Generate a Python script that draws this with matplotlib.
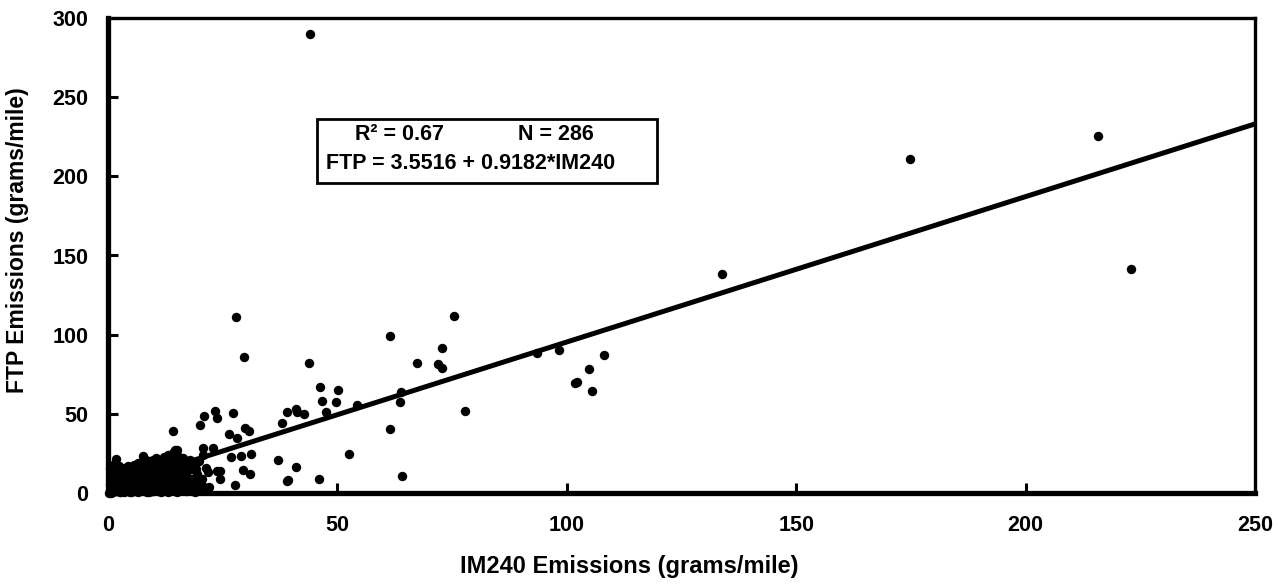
import matplotlib
matplotlib.use("Agg")
import matplotlib.pyplot as plt
from matplotlib.patches import Rectangle
import numpy as np

# ---------------- data (IM240, FTP) ----------------
cluster_points = [
    (0.5, 1.0), (0.8, 3.0), (1.0, 0.5), (1.2, 5.0), (1.5, 2.0), (1.7, 21.5), (1.8, 8.0),
    (2.0, 1.5), (2.2, 4.0), (2.5, 12.0), (2.6, 0.8), (2.8, 6.0), (3.0, 2.5), (3.2, 9.0),
    (3.4, 0.5), (3.5, 4.5), (3.8, 7.0), (4.0, 1.2), (4.2, 3.0), (4.4, 10.0), (4.5, 5.5),
    (4.8, 0.7), (5.0, 2.0), (5.2, 8.0), (5.4, 4.0), (5.6, 11.0), (5.8, 1.0), (6.0, 6.0),
    (6.2, 3.0), (6.4, 13.0), (6.5, 0.5), (6.8, 9.0), (7.0, 2.0), (7.2, 5.0), (7.4, 15.0),
    (7.6, 7.0), (7.6, 23.4), (7.8, 1.0), (8.0, 11.0), (8.2, 3.5), (8.4, 18.0), (8.6, 6.0),
    (8.8, 13.0), (9.0, 0.8), (9.2, 9.0), (9.4, 20.0), (9.5, 4.0), (9.8, 16.0), (10.0, 2.0),
    (10.2, 12.0), (10.4, 22.0), (10.5, 7.0), (10.8, 18.0), (11.0, 1.0), (11.2, 10.0),
    (11.4, 14.0), (11.5, 21.0), (11.8, 5.0), (12.0, 17.0), (12.2, 8.0), (12.4, 2.5),
    (12.6, 20.0), (12.8, 12.0), (13.0, 15.0), (13.2, 6.0), (13.4, 22.0), (13.5, 3.0),
    (13.8, 18.0), (14.0, 10.0), (14.2, 25.0), (14.4, 13.0), (14.6, 1.5), (14.8, 19.0),
    (15.0, 7.0), (15.2, 16.0), (15.4, 23.0), (15.6, 11.0), (15.8, 4.0), (16.0, 19.0),
    (16.2, 14.0), (16.4, 8.0), (16.6, 2.0), (16.8, 17.0), (17.0, 12.0), (17.4, 20.0),
    (17.6, 5.0), (18.0, 15.0), (18.3, 9.0), (18.6, 3.0), (19.0, 18.0), (19.5, 12.0),
    (20.0, 7.0), (0.3, 0.3), (0.9, 6.5), (1.4, 9.5), (2.1, 3.5), (2.9, 10.5), (3.6, 1.8),
    (4.1, 7.5), (4.9, 13.5), (5.5, 1.5), (6.1, 9.5), (6.9, 4.5), (7.3, 11.5), (8.1, 7.5),
    (8.9, 16.5), (9.7, 1.5), (10.3, 14.5), (11.1, 6.5), (11.9, 19.5), (12.7, 4.5),
    (13.3, 9.5), (14.1, 17.5), (14.9, 11.0), (15.7, 2.5), (16.5, 13.5), (17.2, 9.0),
    (1.1, 14.0), (3.3, 11.0), (5.9, 3.5), (7.9, 4.5), (10.9, 15.5), (12.9, 7.0),
    (16.1, 10.5), (2.4, 5.5), (4.6, 13.0), (6.7, 6.0), (9.1, 16.5), (11.6, 1.0),
    (13.9, 4.0), (0.6, 0.2), (2.7, 0.6), (5.1, 0.4),
    (0.4, 6.0), (0.7, 9.0), (1.3, 11.0), (1.6, 14.0), (2.3, 17.0), (1.9, 15.0),
    (2.0, 13.0), (3.1, 14.0), (3.9, 12.0), (4.7, 13.0), (5.3, 15.0), (6.3, 16.0),
    (6.6, 19.0), (7.1, 18.0), (8.3, 21.0), (9.3, 17.0), (9.9, 21.0), (10.6, 20.0),
    (11.3, 19.0), (12.1, 23.0), (13.1, 24.0), (13.7, 21.0), (14.5, 27.0), (15.3, 20.0),
    (16.3, 22.0), (17.1, 18.0), (17.8, 21.0), (18.5, 17.0), (19.2, 15.0), (19.8, 20.0),
    (0.5, 16.0), (1.0, 18.0), (3.7, 16.0), (4.3, 17.0), (5.7, 18.0), (6.9, 14.0),
    (8.7, 15.0), (10.1, 8.0), (11.7, 13.0), (12.3, 5.0), (13.6, 9.0), (14.3, 6.0),
    (15.5, 3.0), (16.7, 6.0), (17.5, 9.0), (18.9, 6.0), (19.7, 3.0), (20.5, 9.0),
    (21.0, 4.0), (2.2, 10.0), (3.0, 11.0), (4.0, 8.0), (6.0, 10.0), (7.0, 12.0),
    (8.5, 0.5), (9.6, 1.0), (11.5, 0.8), (13.0, 0.5), (15.0, 0.6), (17.0, 1.0), (19.0, 0.8),
]
mid_points = [
    (14.2, 39.2), (20.0, 43.0), (20.9, 48.6), (23.3, 51.8), (23.8, 47.4), (27.2, 50.5),
    (26.4, 37.3), (29.9, 41.0), (30.7, 39.2), (28.1, 34.7), (15.0, 27.2), (20.7, 28.4),
    (22.9, 28.4), (20.7, 24.0), (26.8, 22.7), (29.0, 23.4), (31.2, 24.6), (37.0, 20.8),
    (21.4, 15.8), (21.8, 13.3), (23.8, 13.9), (24.4, 13.9), (18.3, 6.3), (29.4, 14.5),
    (31.0, 12.0), (27.7, 5.0), (39.2, 8.2), (19.8, 2.5), (22.0, 4.0), (24.5, 9.0),
    (18.8, 1.0),
]
scatter_points = [
    (75.4, 111.8), (61.5, 99.2), (72.8, 91.6), (43.8, 82.1), (67.3, 82.1), (71.9, 81.5),
    (72.8, 79.0), (93.5, 88.4), (46.2, 67.0), (50.1, 65.0), (46.6, 58.1), (49.7, 57.5),
    (63.9, 63.8), (63.6, 57.5), (54.3, 55.6), (39.0, 51.2), (41.0, 53.0), (41.2, 51.2),
    (42.7, 49.9), (47.5, 51.2), (37.9, 44.2), (77.8, 51.8), (61.5, 40.4), (52.5, 24.6),
    (41.0, 16.4), (39.0, 7.6), (46.0, 8.8), (64.1, 10.7), (27.9, 111.2), (29.6, 85.9),
    (133.8, 138.3), (98.3, 90.3), (108.1, 87.2), (104.8, 78.3), (102.2, 70.1),
    (101.8, 69.5), (105.5, 64.4), (174.8, 211.0), (215.8, 225.5), (223.0, 141.5),
    (44.0, 290.0),
]
fit_intercept = 3.5516
fit_slope = 0.9182
x_ticks = [0, 50, 100, 150, 200, 250]
y_ticks = [0, 50, 100, 150, 200, 250, 300]
x_label = "IM240 Emissions (grams/mile)"
y_label = "FTP Emissions (grams/mile)"
stats_r2 = "R² = 0.67"
stats_n = "N = 286"
stats_eq = "FTP = 3.5516 + 0.9182*IM240"

# ---------------- figure ----------------
plt.rcParams['font.family'] = ['Liberation Sans', 'DejaVu Sans']
fig = plt.figure(figsize=(12.78, 5.84), dpi=100)
ax = fig.add_axes([108/1278, 1 - 493/584, (1255 - 108)/1278, (493 - 18)/584])

pts = np.array(cluster_points + mid_points + scatter_points)
ax.scatter(pts[:, 0], pts[:, 1], s=46, color='black', zorder=3, linewidths=0,
           clip_on=False)

xl = np.array([0, 250])
ax.plot(xl, fit_intercept + fit_slope * xl, color='black', lw=3.6, zorder=2,
        solid_capstyle='butt')

ax.set_xlim(0, 250)
ax.set_ylim(0, 300)
ax.set_xticks(x_ticks)
ax.set_yticks(y_ticks)
ax.tick_params(direction='in', length=7, width=2.2, labelsize=15.5)
ax.tick_params(axis='y', pad=14)
ax.tick_params(axis='x', pad=16)
for lab in ax.get_xticklabels() + ax.get_yticklabels():
    lab.set_fontweight('bold')

for side, w in [('left', 3.8), ('bottom', 3.8), ('top', 2.4), ('right', 2.4)]:
    ax.spines[side].set_linewidth(w)
    ax.spines[side].set_color('black')

fig.text(629/1278, 1 - 567/584, x_label, fontsize=17, fontweight='bold',
         ha='center', va='center')
fig.text(18/1278, 1 - 240/584, y_label, fontsize=16.5, fontweight='bold',
         ha='center', va='center', rotation=90)

# statistics box
ax.add_patch(Rectangle((0.1822, 0.6526), 0.4786 - 0.1822, 0.787 - 0.6526,
                       transform=ax.transAxes, facecolor='white',
                       edgecolor='black', linewidth=2.0, zorder=4))
ax.text(0.2153, 0.7537, stats_r2, transform=ax.transAxes, fontsize=15.5,
        fontweight='bold', ha='left', va='center', zorder=5)
ax.text(0.3575, 0.7537, stats_n, transform=ax.transAxes, fontsize=15.5,
        fontweight='bold', ha='left', va='center', zorder=5)
ax.text(0.1902, 0.6947, stats_eq, transform=ax.transAxes, fontsize=15.5,
        fontweight='bold', ha='left', va='center', zorder=5)

fig.savefig("out.png", dpi=100)
